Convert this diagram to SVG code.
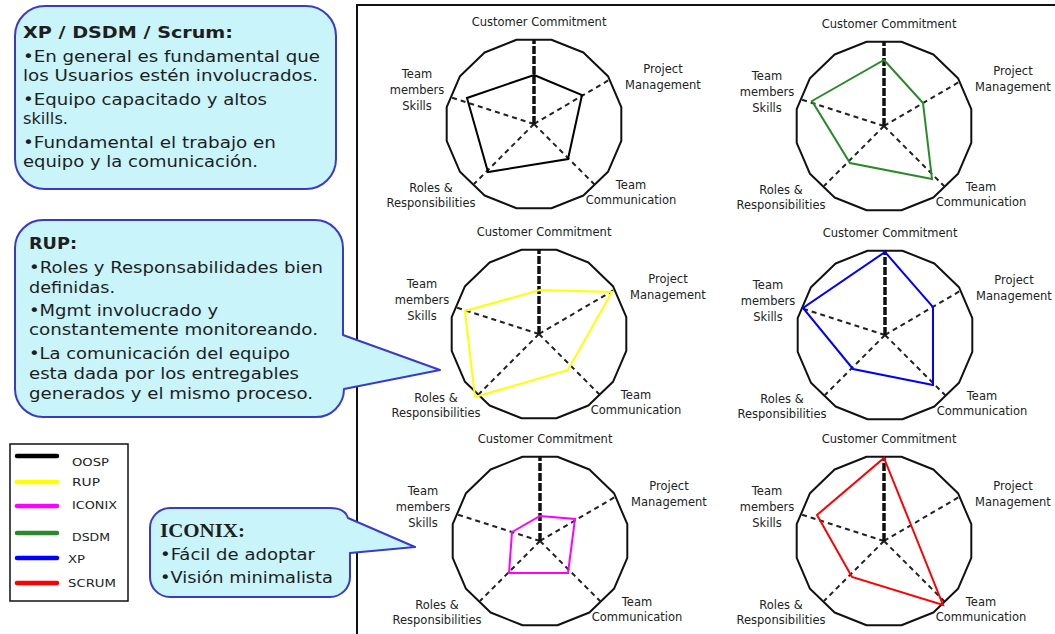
<svg xmlns="http://www.w3.org/2000/svg" xmlns:xlink="http://www.w3.org/1999/xlink" width="1055" height="634" viewBox="0 0 1055 634">
  <style>
    .rim { fill: none; stroke: #111; stroke-width: 2; stroke-linejoin: round; }
    .axis { fill: none; stroke: #222; stroke-width: 2; stroke-dasharray: 5 4; }
    .axis-cc { fill: none; stroke: #111; stroke-width: 3.5; stroke-dasharray: 8 2; }
    .lbl { font-family: "DejaVu Sans", Verdana, sans-serif; font-size: 11.5px; fill: #222; text-anchor: middle; }
    .data { fill: none; stroke-width: 2; stroke-linejoin: miter; }
    .bubble { fill: #c8f4fa; stroke: #3a3ac8; stroke-width: 2; stroke-linejoin: round; }
    .ct { font-family: "DejaVu Sans", Verdana, sans-serif; font-size: 16px; fill: #1e1e1e; }
    .ct-b { font-family: "DejaVu Sans", Verdana, sans-serif; font-size: 16px; font-weight: bold; fill: #1e1e1e; }
    .ct-s { font-family: "Liberation Serif", "Times New Roman", serif; font-size: 18px; font-weight: bold; fill: #1e1e1e; }
    .key { stroke-width: 4.5; stroke-linecap: round; }
    .key-t { font-family: "DejaVu Sans", Verdana, sans-serif; font-size: 10.5px; fill: #222; }
  </style>

  <defs>
    <!-- radar chart frame: 16-sided rim, five axes and their labels, centred on 0,0 -->
    <g id="radar-frame">
      <polygon class="rim" points="17.4,-84.3 49.4,-71.5 74,-47.8 87.3,-16.8 87.3,16.8 74,47.8 49.4,71.5 17.4,84.3 -17.4,84.3 -49.4,71.5 -74,47.8 -87.3,16.8 -87.3,-16.8 -74,-47.8 -49.4,-71.5 -17.4,-84.3"/>
      <line class="axis" x1="0" y1="0" x2="75" y2="-44"/>
      <line class="axis" x1="0" y1="0" x2="61" y2="61"/>
      <line class="axis" x1="0" y1="0" x2="-60" y2="60"/>
      <line class="axis" x1="0" y1="0" x2="-84" y2="-27"/>
      <line class="axis-cc" x1="0" y1="0" x2="0" y2="-85"/>
      <text class="lbl" x="5" y="-98">Customer Commitment</text>
      <text class="lbl" x="129" y="-51">Project</text>
      <text class="lbl" x="129" y="-35">Management</text>
      <text class="lbl" x="-117" y="-46">Team</text>
      <text class="lbl" x="-117" y="-30">members</text>
      <text class="lbl" x="-117" y="-14">Skills</text>
      <text class="lbl" x="-103" y="68">Roles &amp;</text>
      <text class="lbl" x="-103" y="83">Responsibilities</text>
      <text class="lbl" x="97" y="65">Team</text>
      <text class="lbl" x="97" y="80">Communication</text>
    </g>
  </defs>

  <rect width="1055" height="634" fill="#ffffff"/>

  <!-- chart panel border -->
  <path d="M357,634 V5 H1055" fill="none" stroke="#111" stroke-width="2"/>

  <!-- radar charts -->
  <g id="chart-oosp">
    <use xlink:href="#radar-frame" transform="translate(534,124)"/>
    <polygon class="data" stroke="#000" stroke-width="2.5" points="534,75 582,95 568,159 488,172 467,98"/>
  </g>
  <g id="chart-dsdm">
    <use xlink:href="#radar-frame" transform="translate(884,126)"/>
    <polygon class="data" stroke="#2a8a2a" points="884,60 923,103 932,179 850,163 812,101"/>
  </g>
  <g id="chart-rup">
    <use xlink:href="#radar-frame" transform="translate(539,334)"/>
    <polygon class="data" stroke="#ffff00" points="540,290 612,292 568,370 475,397 465,311"/>
  </g>
  <g id="chart-xp">
    <use xlink:href="#radar-frame" transform="translate(885,335)"/>
    <polygon class="data" stroke="#0000ff" points="885,252 933,307 933,385 853,369 803,308"/>
  </g>
  <g id="chart-iconix">
    <use xlink:href="#radar-frame" transform="translate(540,541)"/>
    <polygon class="data" stroke="#ff00ff" points="540,516 575,519 568,573 509,573 512,532"/>
  </g>
  <g id="chart-scrum">
    <use xlink:href="#radar-frame" transform="translate(884,541)"/>
    <polygon class="data" stroke="#ff0000" points="884,458 911,525 943,605 852,577 817,515"/>
  </g>

  <!-- note: agile methods -->
  <g id="note-agile">
    <rect class="bubble" x="15" y="6" width="321" height="183" rx="30" ry="30"/>
    <text class="ct-b" x="23" y="38" textLength="210" lengthAdjust="spacingAndGlyphs">XP / DSDM / Scrum:</text>
    <text class="ct" x="23" y="62" textLength="297" lengthAdjust="spacingAndGlyphs">•En general es fundamental que</text>
    <text class="ct" x="23" y="81" textLength="295" lengthAdjust="spacingAndGlyphs">los Usuarios estén involucrados.</text>
    <text class="ct" x="23" y="105" textLength="244" lengthAdjust="spacingAndGlyphs">•Equipo capacitado y altos</text>
    <text class="ct" x="23" y="124" textLength="45" lengthAdjust="spacingAndGlyphs">skills.</text>
    <text class="ct" x="23" y="148" textLength="253" lengthAdjust="spacingAndGlyphs">•Fundamental el trabajo en</text>
    <text class="ct" x="23" y="167" textLength="235" lengthAdjust="spacingAndGlyphs">equipo y la comunicación.</text>
  </g>

  <!-- note: RUP, pointing at the RUP chart -->
  <g id="note-rup">
    <path class="bubble" d="M43,220 H315 A28,28 0 0 1 343,248 V335 L440,370 L344,389 A28,28 0 0 1 315,417 H43 A28,28 0 0 1 15,389 V248 A28,28 0 0 1 43,220 Z"/>
    <text class="ct-b" x="29" y="249" textLength="48" lengthAdjust="spacingAndGlyphs">RUP:</text>
    <text class="ct" x="29" y="273" textLength="294" lengthAdjust="spacingAndGlyphs">•Roles y Responsabilidades bien</text>
    <text class="ct" x="29" y="293" textLength="86" lengthAdjust="spacingAndGlyphs">definidas.</text>
    <text class="ct" x="29" y="316" textLength="189" lengthAdjust="spacingAndGlyphs">•Mgmt involucrado y</text>
    <text class="ct" x="29" y="335" textLength="289" lengthAdjust="spacingAndGlyphs">constantemente monitoreando.</text>
    <text class="ct" x="29" y="359" textLength="261" lengthAdjust="spacingAndGlyphs">•La comunicación del equipo</text>
    <text class="ct" x="29" y="379" textLength="270" lengthAdjust="spacingAndGlyphs">esta dada por los entregables</text>
    <text class="ct" x="29" y="399" textLength="284" lengthAdjust="spacingAndGlyphs">generados y el mismo proceso.</text>
  </g>

  <!-- note: ICONIX, pointing at the ICONIX chart -->
  <g id="note-iconix">
    <path class="bubble" d="M170,508 H330 Q345,508 348,518 L415,547 L350,553 V577 A20,20 0 0 1 330,597 H170 A20,20 0 0 1 150,577 V528 A20,20 0 0 1 170,508 Z"/>
    <text class="ct-s" x="160" y="537" textLength="85" lengthAdjust="spacingAndGlyphs">ICONIX:</text>
    <text class="ct" x="160" y="560" textLength="155" lengthAdjust="spacingAndGlyphs">•Fácil de adoptar</text>
    <text class="ct" x="160" y="583" textLength="173" lengthAdjust="spacingAndGlyphs">•Visión minimalista</text>
  </g>

  <!-- legend -->
  <g id="legend">
    <rect x="10" y="444" width="118" height="157" fill="#fff" stroke="#111" stroke-width="1.5"/>
    <line class="key" stroke="#000" x1="17" y1="456" x2="57" y2="456"/>
    <text class="key-t" x="72" y="466" textLength="37" lengthAdjust="spacingAndGlyphs">OOSP</text>
    <line class="key" stroke="#ffff00" x1="17" y1="482" x2="57" y2="482"/>
    <text class="key-t" x="72" y="486" textLength="28" lengthAdjust="spacingAndGlyphs">RUP</text>
    <line class="key" stroke="#ff00ff" x1="17" y1="506" x2="57" y2="506"/>
    <text class="key-t" x="72" y="509" textLength="45" lengthAdjust="spacingAndGlyphs">ICONIX</text>
    <line class="key" stroke="#2a8a2a" x1="17" y1="533" x2="57" y2="533"/>
    <text class="key-t" x="72" y="541" textLength="38" lengthAdjust="spacingAndGlyphs">DSDM</text>
    <line class="key" stroke="#0000ff" x1="17" y1="558" x2="57" y2="558"/>
    <text class="key-t" x="68" y="563" textLength="17" lengthAdjust="spacingAndGlyphs">XP</text>
    <line class="key" stroke="#ff0000" x1="17" y1="583" x2="57" y2="583"/>
    <text class="key-t" x="68" y="587" textLength="48" lengthAdjust="spacingAndGlyphs">SCRUM</text>
  </g>
</svg>
